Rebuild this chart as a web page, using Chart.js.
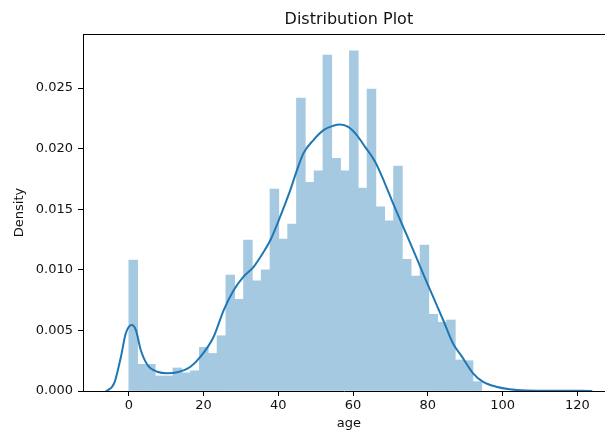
<!DOCTYPE html>
<html>
<head>
<meta charset="utf-8">
<script src="https://cdn.jsdelivr.net/npm/chart.js@4.4.1/dist/chart.umd.min.js"></script>
<style>
    html, body { margin: 0; padding: 0; background: #fff; }
    #wrap { width: 605px; height: 430px; }
</style>
</head>
<body>
<div id="wrap"><canvas id="chart" width="605" height="430"></canvas></div>
<script>
// histogram: 40 bins starting at 0
const binStart = 0;
const binWidth = 2.361;
const densities = [
    0.0108, 0.0022, 0.0022, 0.00124, 0.00124, 0.0019, 0.0015, 0.00167, 0.0036, 0.0031,
    0.00456, 0.00957, 0.00757, 0.01246, 0.0091, 0.0100, 0.01667, 0.01254, 0.01378, 0.02417,
    0.01722, 0.01817, 0.02772, 0.0192, 0.01817, 0.02808, 0.01675, 0.02492, 0.0152, 0.01405,
    0.01856, 0.01087, 0.00949, 0.01205, 0.00633, 0.00567, 0.00586, 0.00256, 0.0025, 0.00077,
];

// kde curve
const kdeX = [
    -6.2, -5.9, -3.9, -2.1, -0.8, 0.8, 1.9, 3.2, 5.0, 7.6,
    10.3, 13.0, 16.5, 19.2, 22.7, 25.4, 28.1, 30.7, 33.4, 36.1,
    37.9, 40.5, 43.2, 45.0, 46.7, 49.4, 52.1, 54.7, 56.5, 58.7,
    61.0, 63.2, 65.9, 68.5, 70.7, 73.4, 76.1, 78.7, 81.4, 84.1,
    86.7, 89.0, 92.1, 94.7, 98.3, 101.9, 106.3, 115, 124,
];
const kdeY = [
    0, 0.00002, 0.00064, 0.00283, 0.00476, 0.00545, 0.00503, 0.00338, 0.00215, 0.00159,
    0.00146, 0.00154, 0.002, 0.00283, 0.00448, 0.00668, 0.00833, 0.00943, 0.01025, 0.01149,
    0.01246, 0.01438, 0.01658, 0.01823, 0.01961, 0.02071, 0.02153, 0.02189, 0.022, 0.0218,
    0.02112, 0.02015, 0.01892, 0.01714, 0.01549, 0.01355, 0.01163, 0.00971, 0.00778, 0.00586,
    0.00394, 0.0029, 0.00146, 0.00077, 0.00035, 0.00014, 0.00005, 0.00002, 0.00001,
];

const xTicks = [0, 20, 40, 60, 80, 100, 120];
const yTicks = [0, 0.005, 0.010, 0.015, 0.020, 0.025];

const xMin = -12.25;
const xMax = 127.4;
const axesRight = 130; // matplotlib xlim right edge, beyond the visible picture
const yMax = 0.02946;

const titleText = 'Distribution Plot';
const xLabel = 'age';
const yLabel = 'Density';

const FONT = '"DejaVu Sans", "Liberation Sans", sans-serif';
const blue = '#1f77b4';
const barFill = 'rgb(165, 201, 225)'; // #1f77b4 at alpha 0.4 on white

const frame = {
    id: 'frame',
    afterDraw(chart) {
        const { ctx, chartArea: a, scales } = chart;
        ctx.save();
        ctx.strokeStyle = '#000';
        ctx.lineWidth = 1;
        ctx.beginPath();
        ctx.moveTo(a.left, a.top + 0.5);
        ctx.lineTo(a.right, a.top + 0.5);
        ctx.stroke();

        const midX = scales.x.getPixelForValue((xMin + axesRight) / 2);
        ctx.fillStyle = '#111';
        ctx.textAlign = 'center';
        ctx.textBaseline = 'middle';
        ctx.font = `16px ${FONT}`;
        ctx.fillText(titleText, midX, 20);

        ctx.font = `13px ${FONT}`;
        ctx.fillText(xLabel, midX, 424);

        ctx.translate(20, (a.top + a.bottom) / 2);
        ctx.rotate(-Math.PI / 2);
        ctx.fillText(yLabel, 0, 0);
        ctx.restore();
    },
};

new Chart(document.getElementById('chart').getContext('2d'), {
    data: {
        datasets: [
            {
                type: 'line',
                label: 'kde',
                data: kdeX.map((x, i) => ({ x, y: kdeY[i] })),
                borderColor: blue,
                borderWidth: 2,
                pointRadius: 0,
                cubicInterpolationMode: 'monotone',
                fill: false,
            },
            {
                type: 'bar',
                label: 'hist',
                data: densities.map((d, i) => ({ x: binStart + binWidth * (i + 0.5), y: d })),
                backgroundColor: barFill,
                borderWidth: 0,
                barPercentage: 1,
                categoryPercentage: 1,
                grouped: false,
            },
        ],
    },
    options: {
        responsive: false,
        animation: false,
        devicePixelRatio: 1,
        layout: { padding: { top: 34, left: 0, right: 0, bottom: 0 } },
        plugins: {
            legend: { display: false },
            tooltip: { enabled: false },
            title: { display: false },
        },
        scales: {
            x: {
                type: 'linear',
                offset: false,
                min: xMin,
                max: xMax,
                afterBuildTicks: (scale) => { scale.ticks = xTicks.map((value) => ({ value })); },
                afterFit: (scale) => { scale.height = 39; },
                ticks: {
                    color: '#111',
                    font: { family: FONT, size: 13 },
                    padding: 2,
                    maxRotation: 0,
                    callback: (value) => String(value),
                },
                grid: {
                    offset: false,
                    drawOnChartArea: false,
                    drawTicks: true,
                    tickLength: 5,
                    tickColor: '#000',
                    tickWidth: 1,
                },
                border: { display: true, color: '#000', width: 1 },
            },
            y: {
                type: 'linear',
                min: 0,
                max: yMax,
                afterBuildTicks: (scale) => { scale.ticks = yTicks.map((value) => ({ value })); },
                afterFit: (scale) => { scale.width = 83; },
                ticks: {
                    color: '#111',
                    font: { family: FONT, size: 13 },
                    padding: 5,
                    callback: (value) => value.toFixed(3),
                },
                grid: {
                    drawOnChartArea: false,
                    drawTicks: true,
                    tickLength: 5,
                    tickColor: '#000',
                    tickWidth: 1,
                },
                border: { display: true, color: '#000', width: 1 },
            },
        },
    },
    plugins: [frame],
});
</script>
</body>
</html>
